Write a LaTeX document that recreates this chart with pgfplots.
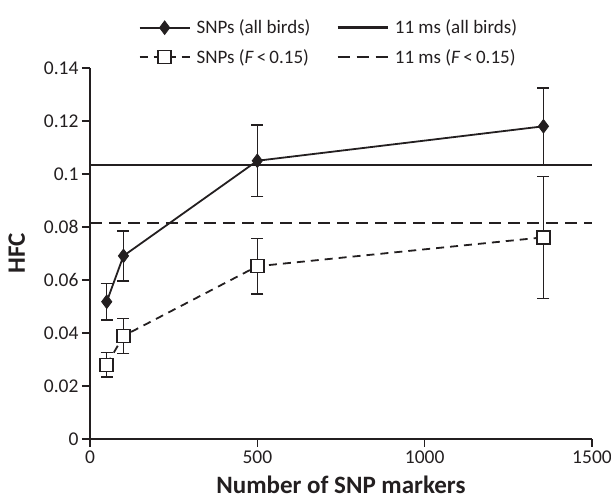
\documentclass[border=0pt]{standalone}
\usepackage{pgfplots}
\pgfplotsset{compat=1.18}
\usetikzlibrary{calc}
\usepackage{fontspec}
\setmainfont{Carlito}
\definecolor{dk}{HTML}{231F20}
\begin{document}
\begin{tikzpicture}
\begin{axis}[
  name=ax,
  scale only axis, width=502pt, height=371pt,
  xmin=0, xmax=1500, ymin=0, ymax=0.14,
  axis x line*=bottom, axis y line*=left,
  xtick={0,500,1000,1500},
  ytick={0,0.02,0.04,0.06,0.08,0.1,0.12,0.14},
  yticklabel style={/pgf/number format/.cd, fixed, precision=2},
  xticklabel style={/pgf/number format/.cd, 1000 sep={}},
  /pgf/number format/assume math mode=true,
  tick align=outside, major tick length=8pt,
  every tick/.style={dk, line width=1.6pt},
  axis line style={dk, line width=1.6pt},
  ticklabel style={font=\fontsize{19.5}{22}\selectfont, text=dk},
  xlabel={Number of SNP markers}, ylabel={HFC},
  label style={font=\fontsize{25}{28}\selectfont\bfseries, text=dk},
  xlabel style={yshift=-6pt},
  ylabel style={yshift=12pt},
  clip=false,
  legend columns=2,
  legend image code/.code={\draw[mark repeat=2,mark phase=2] plot coordinates {(0pt,0pt) (25pt,0pt) (50pt,0pt)};},
  legend style={draw=none, fill=none, at={(0.476,1.0)}, anchor=south, yshift=-1pt,
    font=\fontsize{19}{21}\selectfont, text=dk,
    /tikz/every even column/.append style={column sep=24pt},
    row sep=10pt},
  legend cell align=left,
]
\addplot[dk, line width=1.8pt, mark=diamond*, mark size=6.8pt,
  mark options={solid, fill=dk, draw=dk, line width=0.8pt},
  error bars/.cd, y dir=both, y explicit,
  error bar style={dk, line width=1.5pt, solid},
  error mark options={rotate=90, mark size=6pt, line width=1.5pt, dk}]
  coordinates {
  (50,0.0518) +- (0,0.0069)
  (100,0.0691) +- (0,0.0094)
  (500,0.1050) +- (0,0.0134)
  (1355,0.1180) +- (0,0.0145)
  };
\addlegendentry{\hspace{4pt}SNPs (all birds)}
\addplot[dk, line width=2.4pt, no marks] coordinates {(0,0.1033) (1500,0.1033)};
\addlegendentry{\hspace{4pt}11 ms (all birds)}
\addplot[dk, line width=1.8pt, dash pattern=on 8pt off 6pt, mark=square*, mark size=6.5pt,
  mark options={solid, fill=white, draw=dk, line width=1.5pt},
  error bars/.cd, y dir=both, y explicit,
  error bar style={dk, line width=1.5pt, solid},
  error mark options={rotate=90, mark size=6pt, line width=1.5pt, dk, solid}]
  coordinates {
  (50,0.0280) +- (0,0.0046)
  (100,0.0389) +- (0,0.0066)
  (500,0.0652) +- (0,0.0104)
  (1355,0.0761) +- (0,0.0230)
  };
\addlegendentry{\hspace{4pt}SNPs (\textit{F}\,<\,0.15)}
\addplot[dk, line width=2.4pt, dash pattern=on 12pt off 7pt, no marks] coordinates {(0,0.0814) (1500,0.0814)};
\addlegendentry{\hspace{4pt}11 ms (\textit{F}\,<\,0.15)}
\end{axis}
\pgfresetboundingbox
\path ($(ax.south west)+(-90pt,-64pt)$) rectangle ($(ax.north east)+(19pt,68pt)$);
\end{tikzpicture}
\end{document}
